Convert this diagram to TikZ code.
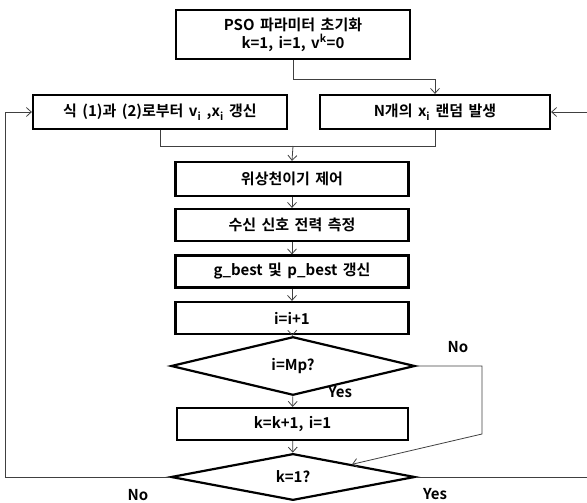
\documentclass[tikz,border=0pt]{standalone}
\usepackage{fontspec}
\setmainfont{Noto Sans CJK KR Bold}[WordSpace=1.6]
\usetikzlibrary{shapes.geometric,arrows.meta,calc}
\begin{document}
\begin{tikzpicture}[x=1pt,y=-1pt,
  box/.style={draw=black,line width=2.2pt,rectangle,inner sep=0pt,align=center,font=\fontsize{15}{18}\selectfont},
  dia/.style={draw=black,line width=2.2pt,diamond,inner sep=0pt,minimum width=244pt,minimum height=36pt,font=\fontsize{15}{18}\selectfont},
  conn/.style={draw=black!75,line width=0.8pt},
  arr/.style={conn,-{Straight Barb[length=5pt,width=9pt]}},
  lbl/.style={font=\fontsize{15}{18}\selectfont}]
\useasboundingbox (0,0) rectangle (587,503);
\node[box,minimum width=234pt,minimum height=49pt] (init) at (293,34.5) {PSO 파라미터 초기화\\k=1, i=1, v\textsuperscript{k}=0};
\node[box,minimum width=254pt,minimum height=34pt] (lft) at (160,112) {식 (1)과 (2)로부터 v\textsubscript{i} ,x\textsubscript{i} 갱신};
\node[box,minimum width=230pt,minimum height=34pt] (rgt) at (435,112) {N개의 x\textsubscript{i} 랜덤 발생};
\node[box,minimum width=233pt,minimum height=34pt] (b1) at (292,179) {위상천이기 제어};
\node[box,minimum width=233pt,minimum height=32pt] (b2) at (292,225) {수신 신호 전력 측정};
\node[box,minimum width=233pt,minimum height=32pt] (b3) at (292,271.5) {g\_best 및 p\_best 갱신};
\node[box,minimum width=233pt,minimum height=32pt] (b4) at (292,318) {i=i+1};
\node[dia] (d1) at (293,366) {i=Mp?};
\node[box,minimum width=231pt,minimum height=32pt] (b5) at (292.5,424) {k=k+1, i=1};
\node[dia] (d2) at (293,477) {k=1?};
\node[lbl] (no1) at (458,347) {No};
\node[lbl] (yes1) at (340,392) {Yes};
\node[lbl] (no2) at (138,495) {No};
\node[lbl] (yes2) at (435,494) {Yes};
\coordinate (m) at (293,146);
\draw[arr] (init.south) -- ++(0,19) -| (rgt.north);
\draw[conn] (lft.south) |- (m);
\draw[conn] (rgt.south) |- (m);
\draw[arr] (m) -- (b1.north);
\draw[arr] (b1) -- (b2);
\draw[arr] (b2) -- (b3);
\draw[arr] (b3) -- (b4);
\draw[arr] (b4) -- (d1);
\draw[arr] (d1) -- (b5);
\draw[arr] (b5) -- (d2);
\draw[arr] (d1.east) -- (482,366) -- (482,434) -- ($(d2.north)!0.48!(d2.east)$);
\draw[arr] (d2.west) -- (5,477) |- (lft.west);
\draw[arr] (d2.east) -- (592,477) |- (rgt.east);
\end{tikzpicture}
\end{document}
